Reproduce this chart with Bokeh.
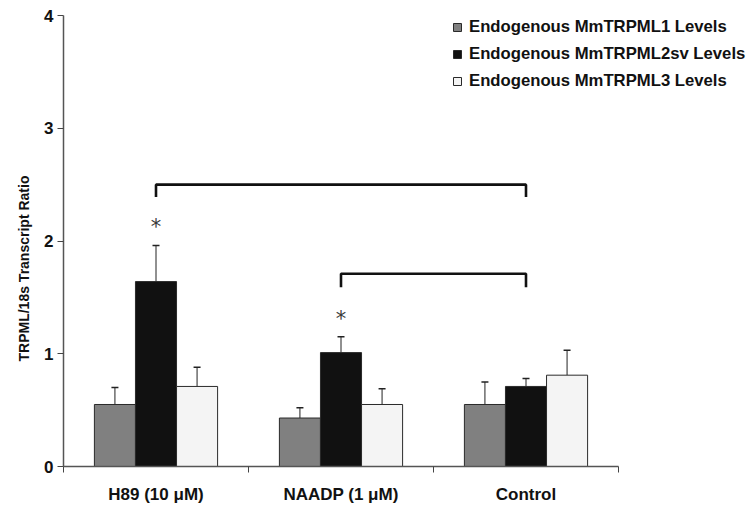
import math
from bokeh.plotting import figure
from bokeh.models import (ColumnDataSource, FixedTicker, Legend, LegendItem,
                          Whisker, TeeHead, Title, Range1d)
from bokeh.core.properties import value
from bokeh.embed import file_html
from bokeh.resources import INLINE

# ---- data ----
categories = ["H89 (10 \u03bcM)", "NAADP (1 \u03bcM)", "Control"]
series_names = ["Endogenous MmTRPML1 Levels",
                "Endogenous MmTRPML2sv Levels",
                "Endogenous MmTRPML3 Levels"]
trpml1 = [0.55, 0.43, 0.55]
trpml1_err = [0.15, 0.09, 0.20]
trpml2sv = [1.64, 1.01, 0.71]
trpml2sv_err = [0.32, 0.14, 0.07]
trpml3 = [0.71, 0.55, 0.81]
trpml3_err = [0.17, 0.14, 0.22]
y_ticks = [0, 1, 2, 3, 4]
# significance brackets: (from group, to group, bracket height, drop)
brackets = [(0, 2, 2.50, 0.11), (1, 2, 1.71, 0.12)]
asterisks = [(0, 2.19), (1, 1.37)]

colors = ["#808080", "#111111", "#f4f4f4"]
FONT = "Liberation Sans"

n = len(categories)
# frame extends right of the axis to leave room for the legend
x_end = n * (751 - 63) / (618 - 63)

p = figure(width=753, height=506, output_backend="svg", toolbar_location=None,
           x_range=Range1d(0, x_end), y_range=Range1d(0, 4),
           min_border_left=63, min_border_top=15, min_border_right=2,
           min_border_bottom=39)
p.outline_line_color = None
p.xgrid.visible = False
p.ygrid.visible = False
p.background_fill_color = "white"

bar_w = 0.222
offsets = [-bar_w, 0.0, bar_w]
all_vals = [trpml1, trpml2sv, trpml3]
all_errs = [trpml1_err, trpml2sv_err, trpml3_err]
legend_items = []
for k in range(3):
    xs = [i + 0.5 + offsets[k] for i in range(n)]
    src = ColumnDataSource(dict(x=xs, top=all_vals[k],
                                up=[v + e for v, e in zip(all_vals[k], all_errs[k])]))
    r = p.vbar(x="x", top="top", bottom=0, width=bar_w, source=src,
               fill_color=colors[k], line_color="#2a2a2a", line_width=1)
    w = Whisker(base="x", lower="top", upper="up", source=src,
                dimension="height", line_color="#222222", line_width=1,
                upper_head=TeeHead(size=7, line_color="#222222", line_width=1.5),
                lower_head=None)
    p.add_layout(w)
    legend_items.append(LegendItem(label=series_names[k], renderers=[r]))

# brackets
for a, b, h, d in brackets:
    xa = a + 0.5 + offsets[1]
    xb = b + 0.5 + offsets[1]
    p.line([xa, xa, xb, xb], [h - d, h, h, h - d], line_color="#111111",
           line_width=2.6)

# asterisks
p.text(x=[g + 0.5 + offsets[1] for g, _ in asterisks], y=[yy for _, yy in asterisks],
       text=["*"] * len(asterisks), text_align="center", text_baseline="middle",
       text_font=value("DejaVu Sans"), text_font_size="21px", text_color="#3a3a3a",
       y_offset=7)

# axes
xax = p.xaxis[0]
xax.bounds = (0, n)
xax.ticker = FixedTicker(ticks=[i + 0.5 for i in range(n)],
                         minor_ticks=list(range(n + 1)))
xax.major_label_overrides = {i + 0.5: c for i, c in enumerate(categories)}
xax.major_tick_out = 0
xax.major_tick_in = 0
xax.minor_tick_out = 6
xax.minor_tick_in = 0
xax.minor_tick_line_color = "#444444"
xax.axis_line_color = "#555555"
xax.axis_line_width = 1.5
xax.major_label_text_font = FONT
xax.major_label_text_font_style = "bold"
xax.major_label_text_font_size = "17px"
xax.major_label_text_color = "#111111"
xax.major_label_standoff = 12

yax = p.yaxis[0]
yax.ticker = FixedTicker(ticks=y_ticks)
yax.minor_tick_line_color = None
yax.major_tick_out = 6
yax.major_tick_in = 0
yax.major_tick_line_color = "#444444"
yax.axis_line_color = "#555555"
yax.axis_line_width = 1.5
yax.major_label_text_font = FONT
yax.major_label_text_font_style = "bold"
yax.major_label_text_font_size = "17px"
yax.major_label_text_color = "#111111"
yax.major_label_standoff = 4

ytitle = Title(text="TRPML/18s Transcript Ratio", align="left", offset=105,
               text_font=FONT, text_font_style="bold", text_font_size="14px",
               text_color="#111111", standoff=20)
p.add_layout(ytitle, "left")

legend = Legend(items=legend_items, location=(389, 375), orientation="vertical",
                label_text_font=FONT, label_text_font_style="bold",
                label_text_font_size="16.7px", label_text_color="#111111",
                glyph_width=10, glyph_height=10, label_standoff=7,
                label_height=20, spacing=7, padding=0, margin=0,
                border_line_color=None, background_fill_alpha=0)
p.add_layout(legend, "center")

open("out.html", "w").write(file_html(p, INLINE))
